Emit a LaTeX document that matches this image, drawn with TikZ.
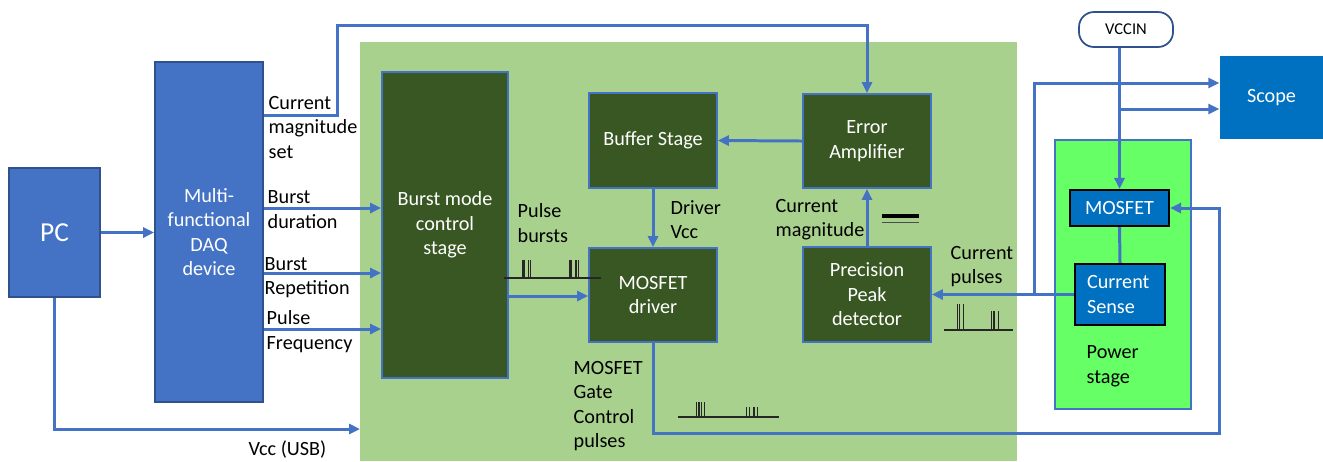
\documentclass[tikz,border=0pt]{standalone}
\usepackage{fontspec}
\setmainfont{Carlito}
\usetikzlibrary{arrows.meta}
\definecolor{daqblue}{HTML}{4472C4}
\definecolor{daqedge}{HTML}{2F528F}
\definecolor{stagegreen}{HTML}{385723}
\definecolor{boardgreen}{HTML}{A9D18E}
\definecolor{powergreen}{HTML}{66FF66}
\definecolor{scopeblue}{HTML}{0070C0}
\begin{document}
\begin{tikzpicture}[
    lbl/.style={font=\fontsize{5.75}{7}\selectfont, inner sep=0pt, align=left, anchor=west, yshift=-0.02cm},
    daqbox/.style={draw=daqedge, line width=0.5pt, fill=daqblue, text=white, inner sep=0pt, align=center, font=\fontsize{5.75}{7}\selectfont},
    stagebox/.style={draw=daqblue, line width=0.5pt, fill=stagegreen, text=white, inner sep=0pt, align=center, minimum width=1.28cm, minimum height=0.94cm, font=\fontsize{5.75}{7}\selectfont},
    devbox/.style={draw=black, line width=0.6pt, fill=scopeblue, text=white, inner sep=0pt, font=\fontsize{5.75}{7}\selectfont},
    sig/.style={daqblue, line width=0.85pt},
    arr/.style={sig, -{Triangle[length=1.1mm,width=1.0mm]}},
    wave/.style={black!85, line width=0.3pt}
]
    \useasboundingbox (0,0) rectangle (13.23,-4.61);
    % board and power stage areas
    \fill[boardgreen] (3.60,-0.42) rectangle (10.17,-4.61);
    \node [draw=daqblue, line width=0.6pt, fill=powergreen, minimum width=1.36cm, minimum height=2.69cm, inner sep=0pt] (power) at (11.23,-2.745) {};

    \node [daqbox, minimum width=0.91cm, minimum height=1.29cm, font=\fontsize{7.8}{9}\selectfont] (pc) at (0.545,-2.325) {PC};
    \node [daqbox, minimum width=1.08cm, minimum height=3.40cm] (daq) at (2.09,-2.32) {Multi-\\functional\\DAQ\\device};
    \node [stagebox, minimum width=1.26cm, minimum height=3.06cm] (burst) at (4.45,-2.25) {Burst mode\\control\\stage};
    \node [stagebox, minimum height=0.95cm] (buffer) at (6.53,-1.405) {Buffer Stage};
    \node [stagebox] (erramp) at (8.67,-1.41) {Error\\Amplifier};
    \node [stagebox] (driver) at (6.53,-2.95) {MOSFET\\driver};
    \node [stagebox, minimum height=0.95cm] (peak) at (8.67,-2.945) {Precision\\Peak\\detector};
    \node [draw=daqedge, line width=0.5pt, rounded corners=1.5mm, fill=white, minimum width=0.94cm, minimum height=0.35cm, inner sep=0pt, font=\fontsize{4.7}{5.6}\selectfont] (vccin) at (11.26,-0.295) {VCCIN};
    \node [fill=scopeblue, text=white, minimum width=1.03cm, minimum height=0.83cm, inner sep=0pt, font=\fontsize{5.75}{7}\selectfont] (scope) at (12.715,-0.975) {Scope};
    \node [devbox, minimum width=0.99cm, minimum height=0.36cm] (mosfet) at (11.195,-2.08) {MOSFET};
    \node [devbox, minimum width=0.90cm, minimum height=0.61cm, text width=0.66cm, inner xsep=0.12cm, align=left] (sense) at (11.20,-2.945) {Current\\Sense};

    % texts
    \node [lbl] (setlbl) at (2.68,-1.255) {Current\\magnitude\\set};
    \node [lbl] (durlbl) at (2.67,-2.075) {Burst\\duration};
    \node [lbl] (replbl) at (2.64,-2.755) {Burst\\Repetition};
    \node [lbl] (freqlbl) at (2.66,-3.295) {Pulse\\Frequency};
    \node [lbl] (usblbl) at (2.48,-4.47) {Vcc (USB)};
    \node [lbl] (burstlbl) at (5.17,-2.21) {Pulse\\bursts};
    \node [lbl] (vcclbl) at (6.70,-2.175) {Driver\\Vcc};
    \node [lbl] (maglbl) at (7.75,-2.175) {Current\\magnitude};
    \node [lbl] (gatelbl) at (5.73,-4.04) {MOSFET\\Gate\\Control\\pulses};
    \node [lbl] (pulselbl) at (9.50,-2.645) {Current\\pulses};
    \node [lbl] (powerlbl) at (10.86,-3.645) {Power\\stage};

    \coordinate (usb) at (3.60,-4.29);
    \coordinate (setbend) at (3.37,-0.25);
    \coordinate (tap) at (10.34,-2.95);
    \coordinate (ret) at (12.19,-4.33);

    % connectors
    \draw[arr] (pc.east) -- (pc.east -| daq.west);
    \draw[arr] (pc.south) |- (usb);
    \draw[arr] (daq.east |- 0,-1.15) -| (setbend) -| (erramp.north);
    \draw[arr] (daq.east |- 0,-2.08) -- (burst.west |- 0,-2.08);
    \draw[arr] (daq.east |- 0,-2.73) -- (burst.west |- 0,-2.73);
    \draw[arr] (daq.east |- 0,-3.29) -- (burst.west |- 0,-3.29);
    \draw[arr] (burst.east |- 0,-2.96) -- (driver.west |- 0,-2.96);
    \draw[arr] (erramp.west) -- (buffer.east);
    \draw[arr] (buffer.south) -- (driver.north);
    \draw[arr] (peak.north) -- (erramp.south);
    \draw[arr] (sense.west) -- (peak.east);
    \draw[arr] (tap) |- (scope.west |- 0,-0.83);
    \draw[arr] (vccin.south -| mosfet.north) -- (mosfet.north);
    \draw[arr] (mosfet.north |- 0,-1.09) -- (scope.west |- 0,-1.09);
    \draw[sig] (mosfet.south) -- (sense.north);
    \draw[arr] (driver.south) |- (ret) |- (mosfet.east);

    % pulse sketches
    \draw[wave] (5.04,-2.78) -- (6.01,-2.78)
                (5.223,-2.78) -- (5.223,-2.60) (5.24,-2.78) -- (5.24,-2.60)
                (5.283,-2.78) -- (5.283,-2.60) (5.307,-2.78) -- (5.307,-2.60)
                (5.70,-2.78) -- (5.70,-2.60) (5.717,-2.78) -- (5.717,-2.60)
                (5.76,-2.78) -- (5.76,-2.60) (5.787,-2.78) -- (5.787,-2.60);
    \draw[wave] (6.78,-4.17) -- (7.79,-4.17)
                (6.967,-4.17) -- (6.967,-4.02) (6.99,-4.17) -- (6.99,-4.02)
                (7.017,-4.17) -- (7.017,-4.02) (7.047,-4.17) -- (7.047,-4.02)
                (7.467,-4.17) -- (7.467,-4.07) (7.493,-4.17) -- (7.493,-4.07)
                (7.54,-4.17) -- (7.54,-4.07) (7.573,-4.17) -- (7.573,-4.07);
    \draw[wave] (9.44,-3.30) -- (10.13,-3.30)
                (9.573,-3.30) -- (9.573,-3.04) (9.593,-3.30) -- (9.593,-3.04)
                (9.633,-3.30) -- (9.633,-3.04)
                (9.917,-3.30) -- (9.917,-3.11) (9.94,-3.30) -- (9.94,-3.11)
                (9.983,-3.30) -- (9.983,-3.11);
    \draw[black, line width=0.9pt] (8.82,-2.16) -- (9.19,-2.16);
    \draw[black!70, line width=0.3pt] (8.82,-2.225) -- (9.19,-2.225);
\end{tikzpicture}
\end{document}
